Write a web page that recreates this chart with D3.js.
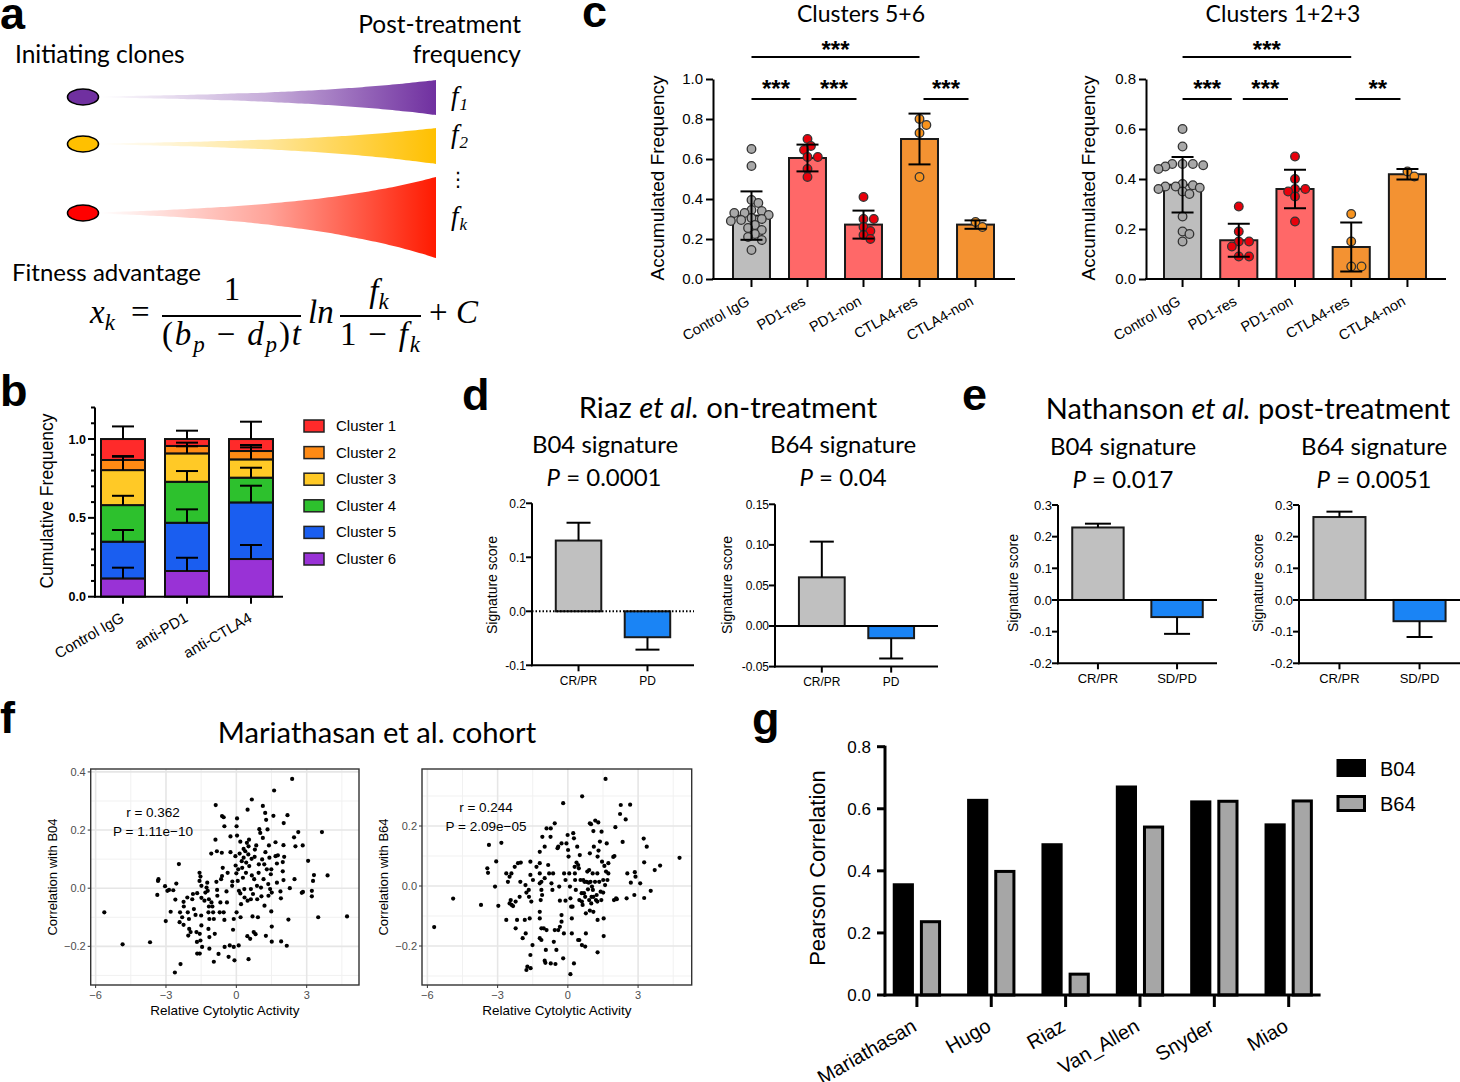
<!DOCTYPE html>
<html><head><meta charset="utf-8">
<script src="https://cdn.jsdelivr.net/npm/d3@7"></script>
<style>body{margin:0;background:#fff}svg{display:block}</style>
</head><body>
<svg id="fig" width="1460" height="1082"></svg>
<script>
// ================= DATA =================
// panel a
const cloneColors = ["#7030a0", "#ffc000", "#ff1a00"];
const cloneSubs = ["1", "2", "k"];
const cloneFinalFreq = [0.35, 0.36, 0.81];

// panel b
const bGroups = ["Control IgG", "anti-PD1", "anti-CTLA4"];
const bClusters = ["Cluster 1", "Cluster 2", "Cluster 3", "Cluster 4", "Cluster 5", "Cluster 6"];
const bColors = ["#ff2a2a", "#ff8a14", "#ffc926", "#2dc12d", "#1a5ef0", "#9932d6"];
const bControl = [0.133, 0.064, 0.222, 0.232, 0.233, 0.116];
const bPD1 = [0.044, 0.047, 0.180, 0.260, 0.306, 0.163];
const bCTLA4 = [0.076, 0.053, 0.116, 0.157, 0.359, 0.239];
const bSDControl = [0.080, 0.025, 0.085, 0.059, 0.074, 0.068];
const bSDPD1 = [0.053, 0.021, 0.045, 0.068, 0.085, 0.084];
const bSDCTLA4 = [0.110, 0.038, 0.076, 0.063, 0.106, 0.089];
const bTicks = [0, 0.5, 1.0];

// panel c
const cCategories = ["Control IgG", "PD1-res", "PD1-non", "CTLA4-res", "CTLA4-non"];
const cBarFill = ["#bdbdbd", "#ff6868", "#ff6868", "#f39232", "#f39232"];
const cDotFill = ["#a8a8a8", "#e8000b", "#e8000b", "#f7931e", "#f7931e"];
const c56Mean = [0.317, 0.605, 0.272, 0.700, 0.272];
const c56SD = [0.121, 0.067, 0.070, 0.127, 0.021];
const c56Pts = [
  [0.65, 0.565, 0.395, 0.38, 0.345, 0.34, 0.33, 0.33, 0.32, 0.305, 0.30, 0.295, 0.29, 0.27, 0.255, 0.245, 0.225, 0.21, 0.195, 0.145],
  [0.70, 0.665, 0.645, 0.61, 0.61, 0.55, 0.51],
  [0.41, 0.30, 0.30, 0.26, 0.24, 0.22, 0.20],
  [0.80, 0.77, 0.73, 0.51],
  [0.26, 0.285]
];
const c56Sig = [{a: 0, b: 3, row: 2, label: "***"}, {a: 0, b: 1, row: 1, label: "***"}, {a: 1, b: 2, row: 1, label: "***"}, {a: 3, b: 4, row: 1, label: "***"}];
const c123Mean = [0.377, 0.155, 0.360, 0.128, 0.419];
const c123SD = [0.111, 0.066, 0.077, 0.098, 0.021];
const c123Pts = [
  [0.60, 0.53, 0.46, 0.46, 0.46, 0.455, 0.45, 0.44, 0.38, 0.375, 0.37, 0.37, 0.365, 0.36, 0.35, 0.34, 0.25, 0.19, 0.18, 0.15],
  [0.29, 0.19, 0.15, 0.15, 0.13, 0.09, 0.09],
  [0.49, 0.40, 0.36, 0.36, 0.35, 0.33, 0.23],
  [0.26, 0.15, 0.05, 0.05],
  [0.41, 0.43]
];
const c123Sig = [{a: 0, b: 3, row: 2, label: "***"}, {a: 0, b: 1, row: 1, label: "***"}, {a: 1, b: 2, row: 1, label: "***"}, {a: 3, b: 4, row: 1, label: "**"}];

// panels d, e
const dCats = ["CR/PR", "PD"];
const eCats = ["CR/PR", "SD/PD"];
const dB04Mean = [0.131, -0.048], dB04Err = [0.033, 0.023];
const dB64Mean = [0.060, -0.015], dB64Err = [0.044, 0.025];
const eB04Mean = [0.229, -0.054], eB04Err = [0.012, 0.053];
const eB64Mean = [0.262, -0.067], eB64Err = [0.017, 0.050];
const dB04Ticks = [-0.1, 0, 0.1, 0.2];
const dB64Ticks = [-0.05, 0, 0.05, 0.10, 0.15];
const eTicks = [-0.2, -0.1, 0, 0.1, 0.2, 0.3];

// panel f (x = relative cytolytic activity, y = correlation)
const scatterB04 = [[-5.63,-0.083],[-4.85,-0.193],[-3.68,-0.186],[-2.38,-0.261],[-2.62,-0.29],[-2.45,0.083],[4.72,-0.097],[3.49,-0.1],[3.89,0.044],[3.65,0.193],[2.38,0.376],[1.61,0.336],[0.66,0.305],[0.48,0.27],[-0.88,0.286],[1.13,0.283],[1.23,0.259],[1.58,0.249],[2.18,0.251],[2.02,0.224],[-0.61,0.248],[0.03,0.24],[0.01,0.213],[2.64,0.193],[2.46,0.175],[2.83,0.147],[2.52,0.144],[3.06,0.094],[3.31,0.045],[3.27,0.025],[2.84,-0.013],[2.79,-0.016],[3.22,-0.009],[3.22,-0.028],[2.48,0.031],[2.28,0],[2.01,0.028],[1.98,0.058],[1.98,0.09],[2.04,0.108],[2.01,0.148],[1.77,0.113],[1.67,0.11],[1.73,0.085],[1.88,-0.011],[1.9,-0.035],[1.91,-0.183],[2.15,-0.198],[2.22,-0.108],[1.51,-0.015],[1.49,-0.08],[1.51,-0.132],[1.51,-0.184],[1.26,-0.164],[1.67,0.158],[1.73,0.019],
[-3.32,0.031],[-3.34,0.025],[-3.37,-0.023],[-3.04,0.007],[-2.94,-0.009],[-2.87,-0.006],[-2.69,-0.007],[-2.6,-0.039],[-2.56,0.016],[-3.01,-0.113],[-2.8,-0.081],[-2.4,-0.083],[-2.42,-0.117],[-2.31,-0.1],[-2.25,-0.126],[-2.24,-0.063],[-2.25,-0.047],[-2.09,-0.032],[-2.07,-0.083],[-2.02,-0.106],[-2.01,-0.14],[-2.05,-0.163],[-1.95,-0.151],[-1.88,-0.038],[-1.85,-0.02],[-1.81,-0.072],[-1.74,-0.092],[-1.67,-0.017],[-1.7,-0.151],[-1.68,-0.185],[-1.67,-0.225],[-1.56,-0.225],[-1.56,-0.157],[-1.57,0.053],[-1.53,0.04],[-1.57,0.025],[-1.49,0.008],[-1.49,-0.033],[-1.5,-0.094],[-1.49,-0.128],[-1.46,-0.202],[-1.53,-0.18],[-1.36,-0.043],[-1.32,-0.015],[-1.27,0.002],[-1.24,0.019],[-1.22,-0.009],[-1.17,-0.038],[-1.17,-0.063],[-1.19,-0.083],[-1.15,-0.106],[-1.19,-0.14],[-1.15,-0.168],[-1.15,-0.208],[-1.06,-0.049],[-1.02,-0.063],[-0.99,-0.083],[-0.96,-0.106],[-0.92,-0.157],[-0.96,-0.253],[-1.07,0.119],[-0.89,0.167],[-0.83,0.127],[-0.85,0.022],[-0.82,-0.006],[-0.81,-0.026],[-0.76,-0.226],[-0.71,-0.083],[-0.68,-0.049],[-0.65,0.031],[-0.62,0.122],[-0.61,0.042],[-0.58,0.07],[-0.54,0.244],[-0.51,0.213],[-0.54,-0.083],[-0.51,-0.109],[-0.5,-0.202],[-0.42,-0.011],[-0.4,-0.049],[-0.37,0.053],[-0.33,-0.236],[-0.28,-0.197],[-0.25,0.124],[-0.25,0.178],[-0.18,0.008],[-0.17,0.023],[-0.14,-0.143],[-0.11,-0.106],[-0.11,-0.202],[-0.08,-0.248],[-0.04,0.11],[-0.03,0.078],[0,0.051],[0.01,-0.083],[0.03,0.181],[0.06,0.025],[0.08,0.065],[0.1,-0.197],[0.11,-0.009],[0.14,0.119],[0.17,0.16],[0.17,-0.018],[0.18,-0.1],[0.2,-0.055],[0.23,0.093],[0.25,0.07],[0.28,0.036],[0.31,0.135],[0.31,0.105],[0.34,-0.003],[0.35,-0.032],[0.38,0.127],[0.41,0.053],[0.42,0.088],[0.45,0.156],[0.47,-0.165],[0.48,-0.043],[0.51,0.116],[0.52,0.144],[0.52,-0.244],[0.54,0.167],[0.55,0.076],[0.59,-0.174],[0.62,-0.003],[0.62,-0.038],[0.65,0.101],[0.66,0.044],[0.69,-0.097],[0.71,-0.02],[0.74,-0.151],[0.76,0.031],[0.78,0.108],[0.79,0.133],[0.82,-0.158],[0.85,0.147],[0.88,0.008],[0.89,-0.038],[0.92,-0.1],[0.95,0.053],[0.96,0.082],[0.98,0.203],[1.02,0.19],[1.05,0.002],[1.07,-0.028],[1.1,0.099],[1.13,0.173],[1.16,0.031],[1.19,0.082],[1.2,-0.06],[1.24,0.124],[1.27,0.235],[1.3,0.065],[1.33,0.202],[1.36,0.014],[1.37,-0.026],[1.39,0.147],[1.41,0.105],[1.44,-0.003],[1.47,0.048],[1.49,0.065]];
const scatterB64 = [[-5.71,-0.137],[-4.9,-0.042],[-3.71,-0.063],[-3.37,0.137],[-3.41,0.044],[-3.44,0.059],[-3.11,-0.002],[-3.06,0.082],[-2.97,-0.066],[-2.84,0.144],[-0.2,0.276],[0.61,0.299],[1.61,0.357],[2.26,0.27],[2.66,0.271],[2.47,0.222],[2.23,0.24],[2.03,0.196],[4.77,0.094],[3.94,0.068],[3.71,0.053],[3.54,-0.016],[3.26,-0.04],[3.24,0.158],[3.37,0.131],[3.26,0.079],[2.86,0.046],[2.89,0.031],[3.09,0.009],[2.84,-0.03],[2.54,0.042],[2.69,0.011],[2.51,-0.041],[2.06,-0.041],[2.09,-0.044],[1.97,-0.047],[1.94,0.097],[1.99,0.1],[2.34,0.147],[1.73,0.076],[1.73,0.042],[1.56,0.067],[1.66,0.142],[1.37,0.148],[1.44,0.181],[1.3,0.212],[1.17,0.218],[0.94,0.209],[0.99,0.206],[1.09,0.183],[1.31,0.118],[1.27,0.098],[1.26,0.042],[1.51,0.02],[1.59,0.003],[1.51,-0.022],[1.53,-0.108],[1.53,-0.167],[1.27,-0.113],[1.27,-0.221],[1.26,-0.052],[1.07,-0.013],[1.01,-0.036],[0.94,-0.082],[0.91,-0.047],[0.77,-0.091],[0.77,-0.158],[0.74,-0.202],[0.6,-0.197],[0.49,-0.18],[0.44,-0.18],[0.26,-0.258],[0.11,-0.294],[-0.2,-0.241],[0.17,-0.158],[-0.17,-0.158],[-0.34,-0.136],[-0.41,-0.147],[-0.49,-0.213],[-0.56,-0.147],[-0.6,-0.186],[-0.91,-0.147],[-0.94,-0.213],[-1.03,-0.141],[-1.13,-0.141],[-1.2,-0.086],[-1.2,-0.108],[-1.13,-0.18],[-0.53,-0.26],[-0.73,-0.258],[-0.96,-0.256],[-0.99,-0.249],[-1.2,-0.174],[-1.59,-0.274],[-1.77,-0.28],[-1.73,-0.269],[-1.6,-0.23],[-1.51,-0.197],[-1.8,-0.158],[-1.93,-0.174],[-2.23,-0.141],[-2.17,-0.113],[-2.63,-0.113],[-2.4,-0.063],[-2.44,-0.047],[-2.49,-0.058],[-2.34,-0.067],[-2.23,-0.052],[-2.06,-0.036],[-2.03,0.014],[-2.01,0.078],[-2.13,0.076],[-2.27,0.064],[-2.63,0.042],[-2.49,0.031],[-2.56,0.014],[-2.41,0.042],[-1.81,0.003],[-1.77,-0.022],[-1.67,-0.013],[-1.66,-0.036],[-1.56,-0.052],[-1.63,-0.108],[-1.84,-0.113],[-1.49,0.02],[-1.6,0.037],[-1.6,0.081],[-1.34,0.064],[-1.2,0.076],[-1.2,0.042],[-1.13,0.014],[-1.2,0.009],[-1.13,-0.013],[-1.16,-0.047],[-1.1,-0.03],[-0.99,0.026],[-0.99,0.131],[-1.2,0.114],[-1.09,0.164],[-0.91,0.192],[-0.73,0.192],[-0.56,0.209],[-0.74,0.164],[-0.84,0.07],[-0.8,0.042],[-0.7,0.009],[-0.66,-0.013],[-0.63,0.042],[-0.44,0.126],[-0.41,0.131],[-0.27,0.142],[-0.37,-0.002],[-0.34,-0.049],[-0.27,-0.097],[-0.27,-0.119],[-0.16,0.042],[-0.1,-0.049],[-0.1,0.02],[-0.06,0.142],[-0.01,0.17],[0.01,0.12],[0.03,0.098],[0.06,0.042],[0.09,-0.002],[0.11,-0.041],[0.14,-0.069],[0.17,-0.108],[0.2,-0.069],[0.23,0.176],[0.26,0.159],[0.29,0.064],[0.3,0.042],[0.31,0.02],[0.34,-0.013],[0.37,0.078],[0.4,0.131],[0.44,0.07],[0.47,0.059],[0.49,-0.047],[0.51,0.103],[0.54,0.02],[0.59,-0.024],[0.6,-0.052],[0.63,-0.063],[0.66,0.02],[0.69,-0.024],[0.71,0.014],[0.74,-0.036],[0.8,0.014],[0.83,0.048],[0.86,-0.011],[0.89,0.011],[0.91,0.053],[0.94,0.109],[0.97,0.014],[1.0,-0.058],[1.03,-0.002],[1.06,0.042],[1.09,-0.036],[1.11,0.131],[1.16,0.014],[1.2,-0.047],[1.23,-0.03],[1.34,0.014],[1.4,-0.019],[1.43,-0.047],[1.46,0.081],[1.63,0.048],[1.69,0.02],[1.09,-0.086]];
const fXTicks = [-6, -3, 0, 3];
const fXMinor = [-4.5, -1.5, 1.5, 4.5];
const fYTicksB04 = [-0.2, 0, 0.2, 0.4];
const fYTicksB64 = [-0.2, 0, 0.2];
const fYMinor = [-0.3, -0.1, 0.1, 0.3];

// panel g
const gCohorts = ["Mariathasan", "Hugo", "Riaz", "Van_Allen", "Snyder", "Miao"];
const gSeries = ["B04", "B64"];
const gB04 = [0.360, 0.632, 0.489, 0.675, 0.627, 0.553];
const gB64 = [0.241, 0.403, 0.072, 0.546, 0.629, 0.630];
const gTicks = [0, 0.2, 0.4, 0.6, 0.8];

// ================= DRAWING =================
const svg = d3.select("#fig");
const SANS = "'Liberation Sans', Arial, Helvetica, sans-serif";
const CAL = "Lato, 'Open Sans', sans-serif";
const SERIF = "'Liberation Serif', 'DejaVu Serif', serif";
svg.append("rect").attr("width", 1460).attr("height", 1082).attr("fill", "#fff");
const defs = svg.append("defs");

function addText(p, x, y, s, o = {}) {
  const t = p.append("text").attr("x", x).attr("y", y)
    .attr("font-family", o.family || SANS).attr("font-size", o.size || 14)
    .attr("fill", o.fill || "#000");
  if (s !== null) t.text(s);
  if (o.anchor) t.attr("text-anchor", o.anchor);
  if (o.weight) t.attr("font-weight", o.weight);
  if (o.style) t.attr("font-style", o.style);
  if (o.transform) t.attr("transform", o.transform);
  return t;
}
function vLabel(p, cx, cy, s, size, family) {
  return p.append("text").attr("transform", `translate(${cx + size * 0.36},${cy}) rotate(-90)`)
    .attr("text-anchor", "middle").attr("font-family", family || SANS).attr("font-size", size).text(s);
}

// panel letters
[["a", 0, 29], ["b", 0, 406], ["c", 582, 27], ["d", 462, 410], ["e", 962, 410], ["f", 0, 733], ["g", 752, 734]]
  .forEach(([l, x, y]) => addText(svg, x, y, l, {size: 45, weight: "bold"}));

// ---------- panel a ----------
(function () {
  const g = svg.append("g");
  addText(g, 15, 63, "Initiating clones", {family: CAL, size: 24.5});
  addText(g, 521, 33, "Post-treatment", {family: CAL, size: 24.5, anchor: "end"});
  addText(g, 521, 63, "frequency", {family: CAL, size: 24.5, anchor: "end"});
  const rowY = [97, 144, 213];
  const endShift = [0.5, 2, 4.5];
  const hx = d3.scaleLinear().domain([0, 1]).range([100, 436]);
  const hw = d3.scaleLinear().domain([0, 1]).range([0, 50]);
  const ts = d3.range(0, 1.0001, 0.02);
  cloneColors.forEach((col, i) => {
    const gid = "hg" + i;
    const gr = defs.append("linearGradient").attr("id", gid).attr("gradientUnits", "userSpaceOnUse")
      .attr("x1", 100).attr("x2", 436).attr("y1", 0).attr("y2", 0);
    [[0, 0], [0.5, 0.4], [1, 1]].forEach(([o, a]) => gr.append("stop").attr("offset", o).attr("stop-color", col).attr("stop-opacity", a));
    const H = hw(cloneFinalFreq[i]);
    const w = t => 0.5 + (H - 0.5) * (Math.exp(2.2 * t) - 1) / (Math.exp(2.2) - 1);
    const c = t => rowY[i] + endShift[i] * t * t;
    const area = d3.area().x(t => hx(t)).y0(t => c(t) - w(t)).y1(t => c(t) + w(t)).curve(d3.curveBasis);
    g.append("path").attr("d", area(ts)).attr("fill", `url(#${gid})`);
    g.append("ellipse").attr("cx", 83).attr("cy", rowY[i]).attr("rx", 15.5).attr("ry", 8)
      .attr("fill", col === "#ff1a00" ? "#ff0000" : col).attr("stroke", "#000").attr("stroke-width", 1.6);
  });
  const fy = [105, 143, 225];
  cloneSubs.forEach((s, i) => {
    const t = addText(g, 451, fy[i], null, {family: SERIF, size: 27, style: "italic"});
    t.append("tspan").text("f");
    t.append("tspan").attr("font-size", 17).attr("dy", 5).attr("dx", 1).text(s);
  });
  addText(g, 458, 186, "⋮", {family: "DejaVu Sans", size: 20, anchor: "middle"});
  addText(g, 12, 281, "Fitness advantage", {family: CAL, size: 24});
  // formula
  const F = 33;
  const x1 = addText(g, 90, 323, null, {family: SERIF, size: F, style: "italic"});
  x1.append("tspan").text("x");
  x1.append("tspan").attr("font-size", 23).attr("dy", 7).text("k");
  addText(g, 131, 323, "=", {family: SERIF, size: F});
  addText(g, 232, 300, "1", {family: SERIF, size: F, anchor: "middle"});
  g.append("line").attr("x1", 162).attr("x2", 301).attr("y1", 316).attr("y2", 316).attr("stroke", "#000").attr("stroke-width", 2);
  const den = addText(g, 162, 345, null, {family: SERIF, size: F});
  den.attr("textLength", 139).attr("lengthAdjust", "spacing");
  den.append("tspan").text("(");
  den.append("tspan").attr("font-style", "italic").text("b");
  den.append("tspan").attr("font-style", "italic").attr("font-size", 23).attr("dy", 7).text("p");
  den.append("tspan").attr("dy", -7).text(" − ");
  den.append("tspan").attr("font-style", "italic").text("d");
  den.append("tspan").attr("font-style", "italic").attr("font-size", 23).attr("dy", 7).text("p");
  den.append("tspan").attr("dy", -7).text(")");
  den.append("tspan").attr("font-style", "italic").text("t");
  addText(g, 308, 323, "ln", {family: SERIF, size: F, style: "italic"});
  const num2 = addText(g, 379, 302, null, {family: SERIF, size: F, style: "italic", anchor: "middle"});
  num2.append("tspan").text("f");
  num2.append("tspan").attr("font-size", 23).attr("dy", 7).text("k");
  g.append("line").attr("x1", 340).attr("x2", 421).attr("y1", 316).attr("y2", 316).attr("stroke", "#000").attr("stroke-width", 2);
  const den2 = addText(g, 340, 345, null, {family: SERIF, size: F});
  den2.attr("textLength", 80).attr("lengthAdjust", "spacing");
  den2.append("tspan").text("1 − ");
  den2.append("tspan").attr("font-style", "italic").text("f");
  den2.append("tspan").attr("font-style", "italic").attr("font-size", 23).attr("dy", 7).text("k");
  const pc = addText(g, 429, 323, null, {family: SERIF, size: F});
  pc.append("tspan").text("+ ");
  pc.append("tspan").attr("font-style", "italic").text("C");
})();

// ---------- panel b ----------
(function () {
  const g = svg.append("g");
  const groupVals = [bControl, bPD1, bCTLA4];
  const groupSD = [bSDControl, bSDPD1, bSDCTLA4];
  const rows = bGroups.map((grp, gi) => {
    const r = {group: grp};
    bClusters.forEach((c, ci) => r[c] = groupVals[gi][ci]);
    return r;
  });
  const keys = bClusters.slice().reverse();
  const stack = d3.stack().keys(keys)(rows);
  const x = d3.scaleBand().domain(bGroups).range([101, 273]).paddingInner(0.3125).paddingOuter(0);
  const y = d3.scaleLinear().domain([0, 1.2]).range([596.7, 407.5]);
  stack.forEach(layer => {
    const ci = bClusters.indexOf(layer.key);
    g.selectAll(null).data(layer).join("rect")
      .attr("x", d => x(d.data.group)).attr("width", x.bandwidth())
      .attr("y", d => y(d[1])).attr("height", d => y(d[0]) - y(d[1]))
      .attr("fill", bColors[ci]).attr("stroke", "#111").attr("stroke-width", 2);
  });
  stack.forEach(layer => {
    const ci = bClusters.indexOf(layer.key);
    layer.forEach((d, gi) => {
      const cx = x(d.data.group) + x.bandwidth() / 2;
      const top = y(d[1] + groupSD[gi][ci]);
      g.append("line").attr("x1", cx).attr("x2", cx).attr("y1", y(d[1])).attr("y2", top).attr("stroke", "#000").attr("stroke-width", 2);
      g.append("line").attr("x1", cx - 11).attr("x2", cx + 11).attr("y1", top).attr("y2", top).attr("stroke", "#000").attr("stroke-width", 2);
    });
  });
  const minor = d3.range(0, 1.2001, 0.1);
  minor.forEach(v => g.append("line").attr("x1", 95).attr("x2", bTicks.some(t => Math.abs(t - v) < 1e-6) ? 88 : 91)
    .attr("y1", y(v)).attr("y2", y(v)).attr("stroke", "#000").attr("stroke-width", 2));
  g.append("line").attr("x1", 95).attr("x2", 95).attr("y1", y(0) + 1).attr("y2", y(1.2)).attr("stroke", "#000").attr("stroke-width", 2);
  bTicks.forEach(v => addText(g, 86, y(v) + 4.5, v.toFixed(1), {size: 12.5, weight: "bold", anchor: "end"}));
  g.append("line").attr("x1", 94).attr("x2", 283).attr("y1", y(0)).attr("y2", y(0)).attr("stroke", "#000").attr("stroke-width", 2);
  bGroups.forEach(grp => {
    const cx = x(grp) + x.bandwidth() / 2;
    g.append("line").attr("x1", cx).attr("x2", cx).attr("y1", y(0)).attr("y2", y(0) + 7).attr("stroke", "#000").attr("stroke-width", 2);
    addText(g, 0, 0, grp, {size: 15, anchor: "end", transform: `translate(${cx + 2},${y(0) + 24}) rotate(-30)`});
  });
  vLabel(g, 47, 501, "Cumulative Frequency", 17.5);
  bClusters.forEach((c, i) => {
    const cy = 426 + i * 26.6;
    g.append("rect").attr("x", 304).attr("y", cy - 6).attr("width", 20).attr("height", 12)
      .attr("fill", bColors[i]).attr("stroke", "#222").attr("stroke-width", 1.5);
    addText(g, 336, cy + 5, c, {size: 15});
  });
})();

// ---------- panel c ----------
function swarm(vals, y, r) {
  const placed = [];
  vals.slice().sort((a, b) => b - a).forEach(v => {
    const py = y(v);
    for (let k = 0; k < 80; k++) {
      const off = k === 0 ? 0 : (k % 2 ? 1 : -1) * Math.ceil(k / 2) * r * 0.8;
      if (placed.every(q => Math.hypot(q.x - off, q.y - py) >= r * 1.7)) { placed.push({x: off, y: py}); break; }
    }
  });
  return placed;
}
function clusterPanel(o) {
  const g = svg.append("g");
  const x = d3.scaleBand().domain(cCategories).range([o.barL, o.barR]).paddingInner(0.34).paddingOuter(0);
  const y = d3.scaleLinear().domain([0, o.ymax]).range([279, 79]);
  const cx = c => x(c) + x.bandwidth() / 2;
  addText(g, o.titleX, 22, o.title, {family: CAL, size: 23, anchor: "middle"});
  g.selectAll(null).data(cCategories).join("rect")
    .attr("x", c => x(c)).attr("width", x.bandwidth())
    .attr("y", (c, i) => y(o.mean[i])).attr("height", (c, i) => y(0) - y(o.mean[i]))
    .attr("fill", (c, i) => cBarFill[i]).attr("stroke", "#1a1a1a").attr("stroke-width", 2);
  cCategories.forEach((c, i) => {
    const placed = swarm(o.pts[i], y, 4.3);
    g.selectAll(null).data(placed).join("circle")
      .attr("cx", p => cx(c) + p.x).attr("cy", p => p.y).attr("r", 4.3)
      .attr("fill", cDotFill[i]).attr("stroke", "#333").attr("stroke-width", 1.3);
  });
  cCategories.forEach((c, i) => {
    const m = o.mean[i], s = o.sd[i], X = cx(c);
    g.append("line").attr("x1", X).attr("x2", X).attr("y1", y(m - s)).attr("y2", y(m + s)).attr("stroke", "#000").attr("stroke-width", 2);
    [m - s, m + s].forEach(v => g.append("line").attr("x1", X - 11).attr("x2", X + 11).attr("y1", y(v)).attr("y2", y(v)).attr("stroke", "#000").attr("stroke-width", 2));
  });
  const ya = d3.axisLeft(y).tickValues(d3.range(0, o.ymax + 1e-9, 0.2)).tickFormat(d3.format(".1f"))
    .tickSize(7).tickSizeOuter(0).tickPadding(3);
  const yg = g.append("g").attr("transform", `translate(${o.axisX},0)`).call(ya);
  yg.select(".domain").attr("stroke-width", 2);
  yg.selectAll(".tick line").attr("stroke-width", 2);
  yg.selectAll(".tick text").attr("font-family", SANS).attr("font-size", 15).attr("fill", "#000");
  g.append("line").attr("x1", o.axisX - 1).attr("x2", o.xEnd).attr("y1", y(0)).attr("y2", y(0)).attr("stroke", "#000").attr("stroke-width", 2);
  cCategories.forEach(c => {
    g.append("line").attr("x1", cx(c)).attr("x2", cx(c)).attr("y1", y(0)).attr("y2", y(0) + 8).attr("stroke", "#000").attr("stroke-width", 2);
    addText(g, 0, 0, c, {size: 14.5, anchor: "end", transform: `translate(${cx(c) - 1},${y(0) + 25}) rotate(-30)`});
  });
  vLabel(g, o.ylabX, 178, "Accumulated Frequency", 19);
  o.sig.forEach(s => {
    const ly = s.row === 2 ? 57 : 99;
    const xa = cx(cCategories[s.a]) + (s.row === 2 ? 0 : (s.a === 0 ? 0 : 4));
    const xb = cx(cCategories[s.b]) - (s.row === 2 ? 0 : 7);
    g.append("line").attr("x1", xa).attr("x2", xb).attr("y1", ly).attr("y2", ly).attr("stroke", "#000").attr("stroke-width", 2);
    addText(g, (xa + xb) / 2, ly + (s.row === 2 ? 1 : -2), s.label, {size: 24, weight: "bold", anchor: "middle"});
  });
}
clusterPanel({title: "Clusters 5+6", titleX: 861, barL: 733, barR: 994, ymax: 1.0, axisX: 713, xEnd: 1015,
  mean: c56Mean, sd: c56SD, pts: c56Pts, sig: c56Sig, ylabX: 657});
clusterPanel({title: "Clusters 1+2+3", titleX: 1283, barL: 1164, barR: 1426, ymax: 0.8, axisX: 1146, xEnd: 1446,
  mean: c123Mean, sd: c123SD, pts: c123Pts, sig: c123Sig, ylabX: 1088});

// ---------- panels d, e ----------
function sigBar(o) {
  const g = svg.append("g");
  const x = d3.scaleBand().domain(o.cats).range([o.axisX, o.xEnd]).paddingInner(o.pi).paddingOuter(o.po);
  const y = d3.scaleLinear().domain(o.yDom).range(o.yRange);
  const fills = ["#c0c0c0", "#1a84f5"];
  o.cats.forEach((c, i) => {
    const v = o.mean[i];
    g.append("rect").attr("x", x(c)).attr("width", x.bandwidth())
      .attr("y", y(Math.max(0, v))).attr("height", Math.abs(y(v) - y(0)))
      .attr("fill", fills[i]).attr("stroke", "#1a1a1a").attr("stroke-width", 2);
    const X = x(c) + x.bandwidth() / 2;
    const e = v >= 0 ? v + o.err[i] : v - o.err[i];
    g.append("line").attr("x1", X).attr("x2", X).attr("y1", y(v)).attr("y2", y(e)).attr("stroke", "#000").attr("stroke-width", 2);
    g.append("line").attr("x1", X - o.cap).attr("x2", X + o.cap).attr("y1", y(e)).attr("y2", y(e)).attr("stroke", "#000").attr("stroke-width", 2);
    g.append("line").attr("x1", X).attr("x2", X).attr("y1", o.yRange[0]).attr("y2", o.yRange[0] + 6).attr("stroke", "#000").attr("stroke-width", 2);
    addText(g, X, o.labY, c, {size: o.fs, anchor: "middle"});
  });
  g.append("line").attr("x1", o.axisX).attr("x2", o.xEnd).attr("y1", y(0)).attr("y2", y(0))
    .attr("stroke", "#000").attr("stroke-width", 2).attr("stroke-dasharray", o.dotted ? "1.5,2" : null);
  g.append("line").attr("x1", o.axisX).attr("x2", o.axisX).attr("y1", o.yRange[0] + 1).attr("y2", o.yRange[1]).attr("stroke", "#000").attr("stroke-width", 2);
  g.append("line").attr("x1", o.axisX - 1).attr("x2", o.xEnd).attr("y1", o.yRange[0]).attr("y2", o.yRange[0]).attr("stroke", "#000").attr("stroke-width", 2);
  o.ticks.forEach(v => {
    g.append("line").attr("x1", o.axisX - 6).attr("x2", o.axisX).attr("y1", y(v)).attr("y2", y(v)).attr("stroke", "#000").attr("stroke-width", 2);
    addText(g, o.axisX - 6, y(v) + o.fs * 0.36, v.toFixed(o.dec), {size: o.fs, anchor: "end"});
  });
  vLabel(g, o.ylabX, o.ylabY, "Signature score", 14);
}
function subTitle(cx, y, parts, size) {
  const t = addText(svg, cx, y, null, {family: CAL, size: size, anchor: "middle"});
  parts.forEach(([s, it]) => t.append("tspan").attr("font-style", it ? "italic" : null).text(s));
}
subTitle(728, 418, [["Riaz ", 0], ["et al.", 1], [" on-treatment", 0]], 29.3);
subTitle(605, 453, [["B04 signature", 0]], 24);
subTitle(604, 486, [["P", 1], [" = 0.0001", 0]], 24);
subTitle(843, 453, [["B64 signature", 0]], 24);
subTitle(843, 486, [["P", 1], [" = 0.04", 0]], 24);
subTitle(1248, 419, [["Nathanson ", 0], ["et al.", 1], [" post-treatment", 0]], 29);
subTitle(1123, 455, [["B04 signature", 0]], 24);
subTitle(1123, 488, [["P", 1], [" = 0.017", 0]], 24);
subTitle(1374, 455, [["B64 signature", 0]], 24);
subTitle(1374, 488, [["P", 1], [" = 0.0051", 0]], 24);

sigBar({cats: dCats, mean: dB04Mean, err: dB04Err, axisX: 532, xEnd: 694, pi: 0.34, po: 0.345,
  yDom: [-0.1, 0.2], yRange: [665.3, 503.3], ticks: dB04Ticks, dec: 1, fs: 12, cap: 12, labY: 685,
  dotted: true, ylabX: 492, ylabY: 585});
sigBar({cats: dCats, mean: dB64Mean, err: dB64Err, axisX: 775, xEnd: 938, pi: 0.34, po: 0.345,
  yDom: [-0.05, 0.15], yRange: [666.6, 504.3], ticks: dB64Ticks, dec: 2, fs: 12, cap: 12, labY: 686,
  dotted: false, ylabX: 727, ylabY: 585});
sigBar({cats: eCats, mean: eB04Mean, err: eB04Err, axisX: 1058, xEnd: 1217, pi: 0.35, po: 0.18,
  yDom: [-0.2, 0.3], yRange: [663.3, 505], ticks: eTicks, dec: 1, fs: 13, cap: 13, labY: 683,
  dotted: false, ylabX: 1013, ylabY: 583});
sigBar({cats: eCats, mean: eB64Mean, err: eB64Err, axisX: 1299, xEnd: 1460, pi: 0.35, po: 0.18,
  yDom: [-0.2, 0.3], yRange: [663.3, 505], ticks: eTicks, dec: 1, fs: 13, cap: 13, labY: 683,
  dotted: false, ylabX: 1258, ylabY: 583});

// ---------- panel f ----------
addText(svg, 377, 743, "Mariathasan et al. cohort", {family: CAL, size: 29.2, anchor: "middle"});
function scatterPanel(o) {
  const g = svg.append("g");
  const x = d3.scaleLinear().domain(o.xDom).range([o.left, o.right]);
  const y = d3.scaleLinear().domain(o.yDom).range([o.bottom, o.top]);
  g.append("rect").attr("x", o.left).attr("y", o.top).attr("width", o.right - o.left).attr("height", o.bottom - o.top).attr("fill", "#fff");
  fXMinor.filter(v => x(v) > o.left && x(v) < o.right).forEach(v => g.append("line").attr("x1", x(v)).attr("x2", x(v)).attr("y1", o.top).attr("y2", o.bottom).attr("stroke", "#f1f1f1").attr("stroke-width", 1));
  fYMinor.filter(v => y(v) > o.top && y(v) < o.bottom).forEach(v => g.append("line").attr("x1", o.left).attr("x2", o.right).attr("y1", y(v)).attr("y2", y(v)).attr("stroke", "#f1f1f1").attr("stroke-width", 1));
  fXTicks.forEach(v => g.append("line").attr("x1", x(v)).attr("x2", x(v)).attr("y1", o.top).attr("y2", o.bottom).attr("stroke", "#e6e6e6").attr("stroke-width", 1.6));
  o.yTicks.forEach(v => g.append("line").attr("x1", o.left).attr("x2", o.right).attr("y1", y(v)).attr("y2", y(v)).attr("stroke", "#e6e6e6").attr("stroke-width", 1.6));
  g.selectAll(null).data(o.pts).join("circle").attr("cx", d => x(d[0])).attr("cy", d => y(d[1])).attr("r", 2.1).attr("fill", "#000");
  g.append("rect").attr("x", o.left).attr("y", o.top).attr("width", o.right - o.left).attr("height", o.bottom - o.top)
    .attr("fill", "none").attr("stroke", "#333").attr("stroke-width", 1.4);
  const fmtY = d3.format(".1f");
  o.yTicks.forEach(v => {
    g.append("line").attr("x1", o.left - 3).attr("x2", o.left).attr("y1", y(v)).attr("y2", y(v)).attr("stroke", "#333").attr("stroke-width", 1);
    addText(g, o.left - 5, y(v) + 4, fmtY(v), {size: 11, anchor: "end", fill: "#4d4d4d"});
  });
  fXTicks.forEach(v => {
    g.append("line").attr("x1", x(v)).attr("x2", x(v)).attr("y1", o.bottom).attr("y2", o.bottom + 3).attr("stroke", "#333").attr("stroke-width", 1);
    addText(g, x(v), o.bottom + 14, d3.format("d")(v), {size: 11, anchor: "middle", fill: "#4d4d4d"});
  });
  addText(g, (o.left + o.right) / 2, 1015, "Relative Cytolytic Activity", {size: 13.5, anchor: "middle"});
  vLabel(g, o.ylabX, 877, o.ylab, 13);
  addText(g, o.statX, o.statY, o.r, {size: 13.5, anchor: "middle"});
  addText(g, o.statX, o.statY + 19, o.p, {size: 13.5, anchor: "middle"});
}
scatterPanel({left: 90.7, right: 359, top: 769, bottom: 985, xDom: [-6.21, 5.23], yDom: [-0.333, 0.41],
  yTicks: fYTicksB04, pts: scatterB04, ylab: "Correlation with B04", ylabX: 52,
  r: "r = 0.362", p: "P = 1.11e−10", statX: 153, statY: 817});
scatterPanel({left: 422, right: 691.7, top: 769, bottom: 985, xDom: [-6.23, 5.29], yDom: [-0.33, 0.39],
  yTicks: fYTicksB64, pts: scatterB64, ylab: "Correlation with B64", ylabX: 383,
  r: "r = 0.244", p: "P = 2.09e−05", statX: 486, statY: 812});

// ---------- panel g ----------
(function () {
  const g = svg.append("g");
  const x0 = d3.scaleBand().domain(gCohorts).range([885, 1320.6]).paddingInner(0.35).paddingOuter(0.104);
  const x1 = d3.scaleBand().domain(gSeries).range([0, x0.bandwidth()]).paddingInner(0.22);
  const y = d3.scaleLinear().domain([0, 0.8]).range([995, 746.7]);
  const vals = {B04: gB04, B64: gB64};
  gCohorts.forEach((c, i) => {
    gSeries.forEach(s => {
      const v = vals[s][i];
      const bx = x0(c) + x1(s);
      if (s === "B04") {
        g.append("rect").attr("x", bx).attr("y", y(v)).attr("width", x1.bandwidth()).attr("height", y(0) - y(v)).attr("fill", "#000");
      } else {
        g.append("rect").attr("x", bx + 1.5).attr("y", y(v) + 1.5).attr("width", x1.bandwidth() - 3).attr("height", y(0) - y(v) - 1.5)
          .attr("fill", "#a6a6a6").attr("stroke", "#000").attr("stroke-width", 3);
      }
    });
  });
  g.append("line").attr("x1", 885).attr("x2", 885).attr("y1", y(0) + 1.5).attr("y2", y(0.8) - 1).attr("stroke", "#000").attr("stroke-width", 3);
  g.append("line").attr("x1", 883.5).attr("x2", 1320.6).attr("y1", y(0)).attr("y2", y(0)).attr("stroke", "#000").attr("stroke-width", 3);
  gTicks.forEach(v => {
    g.append("line").attr("x1", 877).attr("x2", 885).attr("y1", y(v)).attr("y2", y(v)).attr("stroke", "#000").attr("stroke-width", 3);
    addText(g, 871, y(v) + 6, v.toFixed(1), {size: 17, anchor: "end"});
  });
  gCohorts.forEach(c => {
    const cx = x0(c) + x0.bandwidth() / 2;
    g.append("line").attr("x1", cx).attr("x2", cx).attr("y1", y(0)).attr("y2", y(0) + 12).attr("stroke", "#000").attr("stroke-width", 3);
    addText(g, 0, 0, c, {size: 20, anchor: "end", transform: `translate(${cx + 1},${1030}) rotate(-30)`});
  });
  vLabel(g, 817, 868, "Pearson Correlation", 22);
  g.append("rect").attr("x", 1336.5).attr("y", 759).attr("width", 29.5).attr("height", 18).attr("fill", "#000");
  g.append("rect").attr("x", 1338).attr("y", 796.5).attr("width", 26.5).attr("height", 14).attr("fill", "#a6a6a6").attr("stroke", "#000").attr("stroke-width", 3);
  addText(g, 1380, 776, "B04", {size: 20});
  addText(g, 1380, 811, "B64", {size: 20});
})();
</script>
</body></html>
